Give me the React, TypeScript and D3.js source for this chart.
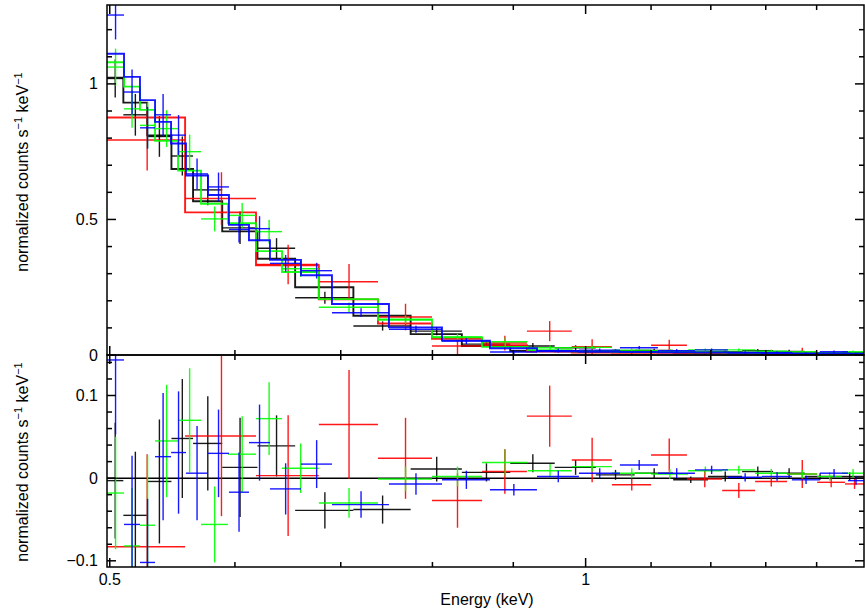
import React from 'react';
import * as d3 from 'd3';

const width = 865;
const height = 609;
const plotLeft = 107;
const plotRight = 864;
const topY = 5;
const midY = 355;
const bottomY = 567;
const font = '"Liberation Sans", Arial, Helvetica, sans-serif';

// energy bin edges (keV), model level, residual (data - model) and 1 sigma error, per data group
const blackEdges = [0.498, 0.51, 0.528, 0.547, 0.5645, 0.589, 0.62, 0.655, 0.713, 0.775, 0.835, 0.896, 0.956, 1.015, 1.074, 1.136, 1.195, 1.256, 1.314, 1.376, 1.438, 1.5];
const blackModel = [1.023, 0.931, 0.81, 0.686, 0.567, 0.456, 0.355, 0.25, 0.145, 0.077, 0.033, 0.015, 0.014, 0.012, 0.011, 0.01, 0.009, 0.008, 0.007, 0.006, 0.006];
const blackResid = [-0.003, -0.045, -0.004, 0.048, 0.042, 0.013, 0.039, -0.039, -0.038, 0.011, 0.007, 0.018, 0.013, 0.004, 0.006, -0.002, 0.002, 0.008, 0.006, 0.002, 0.002];
const blackErr = [0.07, 0.077, 0.075, 0.072, 0.057, 0.06, 0.037, 0.022, 0.017, 0.015, 0.011, 0.011, 0.009, 0.006, 0.006, 0.004, 0.006, 0.006, 0.006, 0.004, 0.005];

const redEdges = [0.498, 0.558, 0.6187, 0.678, 0.739, 0.7995, 0.86, 0.918, 0.98, 1.039, 1.1, 1.159, 1.22, 1.28, 1.341, 1.401, 1.459, 1.5];
const redModel = [0.876, 0.526, 0.331, 0.205, 0.116, 0.06, 0.036, 0.013, 0.009, 0.008, 0.008, 0.007, 0.006, 0.006, 0.005, 0.005, 0.004];
const redResid = [-0.083, 0.051, 0.003, 0.065, 0.024, -0.027, 0.008, 0.075, 0.022, -0.008, 0.028, -0.001, -0.015, -0.004, 0.005, -0.005, -0.007];
const redErr = [0.112, 0.097, 0.073, 0.066, 0.049, 0.033, 0.027, 0.037, 0.027, 0.007, 0.02, 0.01, 0.009, 0.006, 0.017, 0.006, 0.006];

const greenEdges = [0.498, 0.5105, 0.5225, 0.5341, 0.5523, 0.5711, 0.594, 0.6187, 0.6426, 0.678, 0.739, 0.7995, 0.86, 0.919, 0.98, 1.039, 1.1, 1.161, 1.22, 1.28, 1.341, 1.401, 1.4525, 1.5];
const greenModel = [1.08, 0.99, 0.904, 0.79, 0.68, 0.558, 0.486, 0.383, 0.306, 0.206, 0.131, 0.065, 0.03, 0.018, 0.014, 0.012, 0.011, 0.01, 0.009, 0.008, 0.007, 0.006, 0.006];
const greenResid = [-0.018, -0.082, -0.057, 0.045, 0.07, -0.056, 0.029, 0.072, 0.012, -0.03, -0.001, 0.002, 0.019, 0.009, 0.014, 0.006, 0.005, 0.009, 0.01, 0.006, 0.005, 0.002, 0.006];
const greenErr = [0.068, 0.07, 0.085, 0.068, 0.063, 0.046, 0.046, 0.044, 0.03, 0.018, 0.015, 0.012, 0.016, 0.008, 0.006, 0.006, 0.006, 0.005, 0.005, 0.005, 0.005, 0.005, 0.005];

const blueEdges = [0.498, 0.5105, 0.5225, 0.5341, 0.5467, 0.5587, 0.5769, 0.5948, 0.6124, 0.6314, 0.6606, 0.6911, 0.7509, 0.8112, 0.8699, 0.9316, 0.9903, 1.0512, 1.1111, 1.1726, 1.2303, 1.2928, 1.3505, 1.4067, 1.4653, 1.5];
const blueModel = [1.111, 1.026, 0.94, 0.86, 0.78, 0.662, 0.59, 0.48, 0.423, 0.351, 0.294, 0.188, 0.102, 0.053, 0.025, 0.014, 0.012, 0.011, 0.01, 0.009, 0.008, 0.007, 0.006, 0.006, 0.005];
const blueResid = [0.143, -0.056, -0.102, 0.026, 0.031, 0.006, 0.03, -0.017, 0.043, -0.013, 0.017, -0.032, -0.007, -0.002, -0.014, 0.002, 0.006, 0.016, 0.006, 0.01, 0.001, 0.002, -0.002, 0.006, -0.003];
const blueErr = [0.09, 0.083, 0.077, 0.077, 0.074, 0.057, 0.053, 0.048, 0.046, 0.031, 0.029, 0.016, 0.013, 0.011, 0.007, 0.007, 0.006, 0.006, 0.006, 0.005, 0.005, 0.005, 0.005, 0.005, 0.005];

const xMajor = [0.5, 1];
const xMajorLabels = ['0.5', '1'];
const xMinor = [0.6, 0.7, 0.8, 0.9, 1.1, 1.2, 1.3, 1.4];
const topMajor = [0, 0.5, 1];
const topLabels = ['0', '0.5', '1'];
const topMinor = [0.1, 0.2, 0.3, 0.4, 0.6, 0.7, 0.8, 0.9, 1.1, 1.2];
const botMajor = [-0.1, 0, 0.1];
const botLabels = ['\u22120.1', '0', '0.1'];
const botMinor = [-0.08, -0.06, -0.04, -0.02, 0.02, 0.04, 0.06, 0.08, 0.12, 0.14];

const groups = [
  { color: '#000000', edges: blackEdges, model: blackModel, resid: blackResid, err: blackErr },
  { color: '#ff0000', edges: redEdges, model: redModel, resid: redResid, err: redErr },
  { color: '#00ff00', edges: greenEdges, model: greenModel, resid: greenResid, err: greenErr },
  { color: '#0000ff', edges: blueEdges, model: blueModel, resid: blueResid, err: blueErr },
];

const x = d3.scaleLog().domain([0.498, 1.5]).range([plotLeft, plotRight]);
const yTop = d3.scaleLinear().domain([0, 1.291]).range([midY, topY]);
const yBot = d3.scaleLinear().domain([-0.1075, 0.149]).range([bottomY, midY]);

const stepLine = d3.line<[number, number]>()
  .x(d => x(d[0]))
  .y(d => yTop(d[1]))
  .curve(d3.curveStepAfter);

function Crosses({ g, y, vals }: any) {
  return (
    <g stroke={g.color} strokeWidth={1.4} strokeOpacity={0.9}>
      {vals.map((v: number, i: number) => {
        const lo = g.edges[i];
        const hi = g.edges[i + 1];
        const xc = x((lo + hi) / 2);
        return (
          <g key={i}>
            <line x1={x(lo)} x2={x(hi)} y1={y(v)} y2={y(v)} />
            <line x1={xc} x2={xc} y1={y(v - g.err[i])} y2={y(v + g.err[i])} />
          </g>
        );
      })}
    </g>
  );
}

function Ticks({ scaleY, major, minor }: any) {
  const out: any[] = [];
  major.forEach((v: number, i: number) => {
    const yy = scaleY(v);
    out.push(<line key={'ml' + i} x1={plotLeft} x2={plotLeft + 9} y1={yy} y2={yy} />);
    out.push(<line key={'mr' + i} x1={plotRight} x2={plotRight - 9} y1={yy} y2={yy} />);
  });
  minor.forEach((v: number, i: number) => {
    const yy = scaleY(v);
    out.push(<line key={'nl' + i} x1={plotLeft} x2={plotLeft + 5} y1={yy} y2={yy} />);
    out.push(<line key={'nr' + i} x1={plotRight} x2={plotRight - 5} y1={yy} y2={yy} />);
  });
  return <g>{out}</g>;
}

function XTicks({ y0, dir }: any) {
  return (
    <g>
      {xMajor.map((v, i) => <line key={'a' + i} x1={x(v)} x2={x(v)} y1={y0} y2={y0 + dir * 9} />)}
      {xMinor.map((v, i) => <line key={'b' + i} x1={x(v)} x2={x(v)} y1={y0} y2={y0 + dir * 5} />)}
    </g>
  );
}

function YTitle({ cy }: any) {
  return (
    <text transform={`translate(28,${cy}) rotate(-90)`} textAnchor="middle" fontSize={16} fontFamily={font} fill="#000">
      normalized counts s<tspan dy={-6} fontSize={11}>{'\u22121'}</tspan>
      <tspan dy={6}> keV</tspan><tspan dy={-6} fontSize={11}>{'\u22121'}</tspan>
    </text>
  );
}

export default function App() {
  return (
    <svg width={width} height={height} style={{ position: 'absolute', left: 0, top: 0, background: '#fff' }}>
      <defs>
        <clipPath id="clipTop"><rect x={plotLeft} y={topY} width={plotRight - plotLeft} height={midY - topY} /></clipPath>
        <clipPath id="clipBot"><rect x={plotLeft} y={midY} width={plotRight - plotLeft} height={bottomY - midY} /></clipPath>
      </defs>
      <rect width={width} height={height} fill="#fff" />

      <g clipPath="url(#clipTop)">
        {groups.map((g, k) => {
          const pts: [number, number][] = g.model.map((m, i) => [g.edges[i], m] as [number, number]);
          pts.push([g.edges[g.edges.length - 1], g.model[g.model.length - 1]]);
          const data = g.model.map((m, i) => m + g.resid[i]);
          return (
            <g key={k}>
              <Crosses g={g} y={yTop} vals={data} />
              <path d={stepLine(pts) || ''} fill="none" stroke={g.color} strokeWidth={1.9} strokeOpacity={0.9} />
            </g>
          );
        })}
      </g>

      <g clipPath="url(#clipBot)">
        <line x1={plotLeft} x2={plotRight} y1={yBot(0)} y2={yBot(0)} stroke="#000" strokeWidth={1.5} />
        {groups.map((g, k) => <Crosses key={k} g={g} y={yBot} vals={g.resid} />)}
      </g>

      <g stroke="#000" strokeWidth={1.5} fill="none">
        <rect x={plotLeft} y={topY} width={plotRight - plotLeft} height={midY - topY} />
        <rect x={plotLeft} y={midY} width={plotRight - plotLeft} height={bottomY - midY} />
        <Ticks scaleY={yTop} major={topMajor} minor={topMinor} />
        <Ticks scaleY={yBot} major={botMajor} minor={botMinor} />
        <XTicks y0={topY} dir={1} />
        <XTicks y0={midY} dir={-1} />
        <XTicks y0={midY} dir={1} />
        <XTicks y0={bottomY} dir={-1} />
      </g>

      <g fontFamily={font} fontSize={16} fill="#000">
        {topMajor.map((v, i) => (
          <text key={'t' + i} x={98} y={yTop(v)} dy="0.35em" textAnchor="end">{topLabels[i]}</text>
        ))}
        {botMajor.map((v, i) => (
          <text key={'b' + i} x={98} y={yBot(v)} dy="0.35em" textAnchor="end">{botLabels[i]}</text>
        ))}
        {xMajor.map((v, i) => (
          <text key={'x' + i} x={x(v)} y={585} textAnchor="middle">{xMajorLabels[i]}</text>
        ))}
        <text x={487} y={605} textAnchor="middle">Energy (keV)</text>
      </g>
      <YTitle cy={172} />
      <YTitle cy={462} />
    </svg>
  );
}
